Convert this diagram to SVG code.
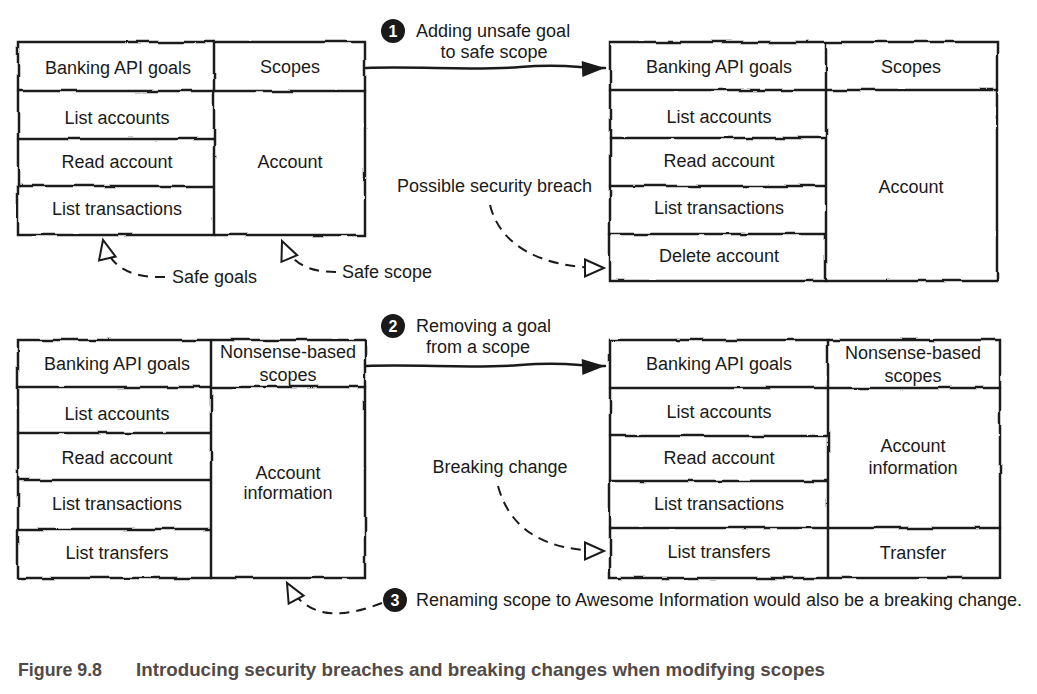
<svg xmlns="http://www.w3.org/2000/svg" width="1037" height="694" viewBox="0 0 1037 694">
<style>
.t{font-family:"Liberation Sans","DejaVu Sans",sans-serif;font-size:18px;fill:#1a1a1a;text-anchor:middle}
.ts{font-family:"Liberation Sans","DejaVu Sans",sans-serif;font-size:18px;fill:#1a1a1a}
.ln{fill:none;stroke:#1a1a1a;stroke-width:2.5;stroke-linecap:round}
.dash{fill:none;stroke:#1a1a1a;stroke-width:2;stroke-dasharray:10 7}
.num{font-family:"Liberation Sans","DejaVu Sans",sans-serif;font-size:16px;fill:#fff;text-anchor:middle;font-weight:bold}
.cap{font-family:"Liberation Sans","DejaVu Sans",sans-serif;font-size:19px;font-weight:bold;fill:#514a48}
</style>
<defs>
<filter id="rough" x="-5%" y="-5%" width="110%" height="110%">
<feTurbulence type="fractalNoise" baseFrequency="0.035" numOctaves="2" seed="4" result="n"/>
<feDisplacementMap in="SourceGraphic" in2="n" scale="3.5" xChannelSelector="R" yChannelSelector="G"/>
</filter>
<marker id="solid" markerUnits="userSpaceOnUse" markerWidth="24" markerHeight="18" refX="23" refY="8" orient="auto" overflow="visible">
<path d="M0,0 L23,8 L0,16 Z" fill="#1a1a1a"/>
</marker>
<marker id="open" markerUnits="userSpaceOnUse" markerWidth="22" markerHeight="20" refX="20" refY="9.5" orient="auto" overflow="visible">
<path d="M1,1 L20,9.5 L1,18 Z" fill="#fff" stroke="#1a1a1a" stroke-width="2" stroke-linejoin="miter"/>
</marker>
</defs>
<rect width="1037" height="694" fill="#fff"/>

<g id="table-1">
<g filter="url(#rough)">
<rect class="ln" x="18" y="42" width="347" height="193"/>
<path class="ln" d="M214 42 V235 M18 91 H365 M18 139 H214 M18 186 H214"/>
</g>
<text class="t" x="118" y="74">Banking API goals</text>
<text class="t" x="290" y="73">Scopes</text>
<text class="t" x="117" y="124">List accounts</text>
<text class="t" x="117" y="168">Read account</text>
<text class="t" x="117" y="215">List transactions</text>
<text class="t" x="290" y="168">Account</text>
</g>

<g id="table-2">
<g filter="url(#rough)">
<rect class="ln" x="610" y="42" width="387" height="239"/>
<path class="ln" d="M826 42 V281 M610 90 H997 M610 138 H826 M610 186 H826 M610 234 H826"/>
</g>
<text class="t" x="719" y="73">Banking API goals</text>
<text class="t" x="911" y="73">Scopes</text>
<text class="t" x="719" y="123">List accounts</text>
<text class="t" x="719" y="167">Read account</text>
<text class="t" x="719" y="214">List transactions</text>
<text class="t" x="719" y="262">Delete account</text>
<text class="t" x="911" y="193">Account</text>
</g>

<g id="table-3">
<g filter="url(#rough)">
<rect class="ln" x="18" y="340" width="347" height="238"/>
<path class="ln" d="M211 340 V578 M18 387 H365 M18 433 H211 M18 480 H211 M18 529 H211"/>
</g>
<text class="t" x="117" y="370">Banking API goals</text>
<text class="t" x="288" y="358">Nonsense-based</text>
<text class="t" x="288" y="381">scopes</text>
<text class="t" x="117" y="420">List accounts</text>
<text class="t" x="117" y="464">Read account</text>
<text class="t" x="117" y="510">List transactions</text>
<text class="t" x="117" y="559">List transfers</text>
<text class="t" x="288" y="479">Account</text>
<text class="t" x="288" y="499">information</text>
</g>

<g id="table-4">
<g filter="url(#rough)">
<rect class="ln" x="610" y="340" width="390" height="238"/>
<path class="ln" d="M828 340 V578 M610 388 H1000 M610 436 H828 M610 481 H828 M610 528 H1000"/>
</g>
<text class="t" x="719" y="370">Banking API goals</text>
<text class="t" x="913" y="359">Nonsense-based</text>
<text class="t" x="913" y="382">scopes</text>
<text class="t" x="719" y="418">List accounts</text>
<text class="t" x="719" y="464">Read account</text>
<text class="t" x="719" y="510">List transactions</text>
<text class="t" x="719" y="558">List transfers</text>
<text class="t" x="913" y="452">Account</text>
<text class="t" x="913" y="474">information</text>
<text class="t" x="913" y="559">Transfer</text>
</g>

<g id="connectors">
<path class="ln" d="M366 68 C420 66 470 71 520 67 S580 69 605 68" marker-end="url(#solid)"/>
<path class="ln" d="M366 366 C420 364 470 369 520 365 S580 367 605 366" marker-end="url(#solid)"/>
<path class="dash" d="M490 205 C500 245 540 268 604 268" marker-end="url(#open)"/>
<path class="dash" d="M498 486 C510 530 545 551 604 551" marker-end="url(#open)"/>
<path class="dash" d="M165 277 C135 278 110 270 103 240" marker-end="url(#open)"/>
<path class="dash" d="M336 272 C310 272 292 265 282 241" marker-end="url(#open)"/>
<path class="dash" d="M382 603 C350 615 310 625 287 583" marker-end="url(#open)"/>
</g>

<g id="label-1">
<circle cx="393" cy="31" r="12" fill="#1a1a1a"/>
<text class="num" x="393" y="37">1</text>
<text class="ts" x="416" y="37">Adding unsafe goal</text>
<text class="t" x="494" y="58">to safe scope</text>
</g>
<g id="label-2">
<circle cx="393" cy="326" r="12" fill="#1a1a1a"/>
<text class="num" x="393" y="332">2</text>
<text class="ts" x="416" y="332">Removing a goal</text>
<text class="t" x="478" y="353">from a scope</text>
</g>
<g id="label-3">
<circle cx="395" cy="600" r="12" fill="#1a1a1a"/>
<text class="num" x="395" y="606">3</text>
<text class="ts" x="416" y="606">Renaming scope to Awesome Information would also be a breaking change.</text>
</g>
<g id="label-breach"><text class="ts" x="397" y="192">Possible security breach</text></g>
<g id="label-breaking"><text class="t" x="500" y="473">Breaking change</text></g>
<g id="label-safe-goals"><text class="ts" x="172" y="283">Safe goals</text></g>
<g id="label-safe-scope"><text class="ts" x="342" y="278">Safe scope</text></g>

<g id="caption">
<text class="cap" x="18" y="676" textLength="84" lengthAdjust="spacingAndGlyphs">Figure 9.8</text>
<text class="cap" x="136" y="676" textLength="689" lengthAdjust="spacingAndGlyphs">Introducing security breaches and breaking changes when modifying scopes</text>
</g>
</svg>
